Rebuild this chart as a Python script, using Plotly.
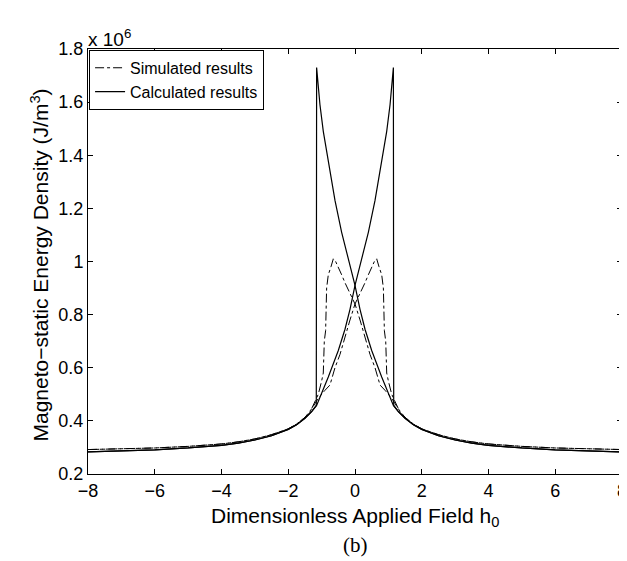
import plotly.graph_objects as go

# Calculated results (units of 1e6 J/m^3)
calc_h_up = [-8, -7, -6, -5, -4, -3.5, -3, -2.5, -2, -1.75, -1.5, -1.3, -1.15,
             -0.8, -0.5, -0.3, -0.15, 0, 0.2, 0.4, 0.6, 0.8, 0.95, 1.05, 1.15,
             1.16, 1.3, 1.5, 1.75, 2, 2.5, 3, 3.5, 4, 5, 6, 7, 8]
calc_e_up = [0.283, 0.286, 0.291, 0.298, 0.308, 0.316, 0.328, 0.344, 0.368, 0.385, 0.41, 0.435, 0.458,
             0.565, 0.665, 0.745, 0.82, 0.91, 1.01, 1.11, 1.23, 1.37, 1.49, 1.59, 1.73,
             0.458, 0.435, 0.41, 0.385, 0.368, 0.344, 0.328, 0.316, 0.308, 0.298, 0.291, 0.286, 0.283]
calc_h_down = [8, 7, 6, 5, 4, 3.5, 3, 2.5, 2, 1.75, 1.5, 1.3, 1.15,
               0.8, 0.5, 0.3, 0.15, 0, -0.2, -0.4, -0.6, -0.8, -0.95, -1.05, -1.15,
               -1.16, -1.3, -1.5, -1.75, -2, -2.5, -3, -3.5, -4, -5, -6, -7, -8]
calc_e_down = [0.283, 0.286, 0.291, 0.298, 0.308, 0.316, 0.328, 0.344, 0.368, 0.385, 0.41, 0.435, 0.458,
               0.565, 0.665, 0.745, 0.82, 0.91, 1.01, 1.11, 1.23, 1.37, 1.49, 1.59, 1.73,
               0.458, 0.435, 0.41, 0.385, 0.368, 0.344, 0.328, 0.316, 0.308, 0.298, 0.291, 0.286, 0.283]

# Simulated results
sim_h_up = [-8, -7, -6, -5, -4, -3.5, -3, -2.5, -2, -1.75, -1.5, -1.35, -1.29, -1.2, -1.1, -1.0,
            -0.95, -0.92, -0.88, -0.85, -0.8, -0.72, -0.65, -0.58, -0.5, -0.4, -0.3, -0.15, 0,
            0.15, 0.3, 0.45, 0.6, 0.75, 0.9, 1.07, 1.2, 1.3, 1.5, 1.75, 2, 2.5, 3, 3.5, 4, 5, 6, 7, 8]
sim_e_up = [0.292, 0.294, 0.298, 0.304, 0.313, 0.321, 0.332, 0.348, 0.37, 0.388, 0.413, 0.432, 0.45, 0.47, 0.5, 0.55,
            0.58, 0.7, 0.74, 0.9, 0.95, 0.98, 1.01, 1.0, 0.98, 0.95, 0.92, 0.88, 0.84,
            0.78, 0.71, 0.65, 0.6, 0.535, 0.515, 0.49, 0.465, 0.445, 0.413, 0.388, 0.37, 0.348, 0.332, 0.321, 0.313, 0.304, 0.298, 0.294, 0.292]
sim_h_down = [8, 7, 6, 5, 4, 3.5, 3, 2.5, 2, 1.75, 1.5, 1.35, 1.29, 1.2, 1.1, 1.0,
              0.95, 0.92, 0.88, 0.85, 0.8, 0.72, 0.65, 0.58, 0.5, 0.4, 0.3, 0.15, 0,
              -0.15, -0.3, -0.45, -0.6, -0.75, -0.9, -1.07, -1.2, -1.3, -1.5, -1.75, -2, -2.5, -3, -3.5, -4, -5, -6, -7, -8]
sim_e_down = [0.292, 0.294, 0.298, 0.304, 0.313, 0.321, 0.332, 0.348, 0.37, 0.388, 0.413, 0.432, 0.45, 0.47, 0.5, 0.55,
              0.58, 0.7, 0.74, 0.9, 0.95, 0.98, 1.01, 1.0, 0.98, 0.95, 0.92, 0.88, 0.84,
              0.78, 0.71, 0.65, 0.6, 0.535, 0.515, 0.49, 0.465, 0.445, 0.413, 0.388, 0.37, 0.348, 0.332, 0.321, 0.313, 0.304, 0.298, 0.294, 0.292]

x_ticks = [-8, -6, -4, -2, 0, 2, 4, 6, 8]
y_ticks = [0.2, 0.4, 0.6, 0.8, 1.0, 1.2, 1.4, 1.6, 1.8]
y_tick_text = ["0.2", "0.4", "0.6", "0.8", "1", "1.2", "1.4", "1.6", "1.8"]

FONT = "Liberation Sans, Arial, sans-serif"

fig = go.Figure()
fig.add_trace(go.Scatter(x=sim_h_up, y=sim_e_up, mode="lines", name="Simulated results",
                         legendgroup="sim", line=dict(color="black", width=1, dash="dashdot")))
fig.add_trace(go.Scatter(x=sim_h_down, y=sim_e_down, mode="lines", name="Simulated results",
                         legendgroup="sim", showlegend=False,
                         line=dict(color="black", width=1, dash="dashdot")))
fig.add_trace(go.Scatter(x=calc_h_up, y=calc_e_up, mode="lines", name="Calculated results",
                         legendgroup="calc", line=dict(color="black", width=1.2)))
fig.add_trace(go.Scatter(x=calc_h_down, y=calc_e_down, mode="lines", name="Calculated results",
                         legendgroup="calc", showlegend=False, line=dict(color="black", width=1.2)))

axis_common = dict(showline=True, linecolor="black", linewidth=1, mirror="ticks",
                   ticks="inside", ticklen=5, tickcolor="black", showgrid=False, zeroline=False,
                   tickfont=dict(family=FONT, size=18, color="black"))

fig.update_layout(
    width=627, height=561,
    margin=dict(l=80, r=8, t=41, b=95),
    paper_bgcolor="white", plot_bgcolor="white",
    showlegend=True,
    legend=dict(x=0.002, y=0.998, xanchor="left", yanchor="top",
                bgcolor="white", bordercolor="black", borderwidth=1,
                font=dict(family=FONT, size=16, color="black"),
                tracegroupgap=0, itemwidth=30),
    xaxis=dict(range=[-8, 8], tickvals=x_ticks, **axis_common),
    yaxis=dict(range=[0.2, 1.8], tickvals=y_ticks, ticktext=y_tick_text, **axis_common),
    annotations=[
        dict(text="Dimensionless Applied Field h<sub>0</sub>", xref="paper", yref="paper",
             x=0.5, y=0, xanchor="center", yanchor="top", yshift=-28, showarrow=False,
             font=dict(family=FONT, size=21, color="black")),
        dict(text="(b)", xref="paper", yref="paper", x=0.5, y=0, xanchor="center",
             yanchor="middle", yshift=-71, showarrow=False,
             font=dict(family="Liberation Serif, Times New Roman, serif", size=21, color="black")),
        dict(text="Magneto\u2212static Energy Density (J/m<sup>3</sup>)", xref="paper", yref="paper",
             x=0, y=0.5, xanchor="center", yanchor="middle", xshift=-49, yshift=-4, textangle=-90,
             showarrow=False, font=dict(family=FONT, size=21, color="black")),
        dict(text="x 10<sup>6</sup>", xref="paper", yref="paper", x=0, y=1, xanchor="left",
             yanchor="bottom", xshift=-2, yshift=-3, showarrow=False,
             font=dict(family=FONT, size=19, color="black")),
    ],
)

fig.write_html("out.html")
